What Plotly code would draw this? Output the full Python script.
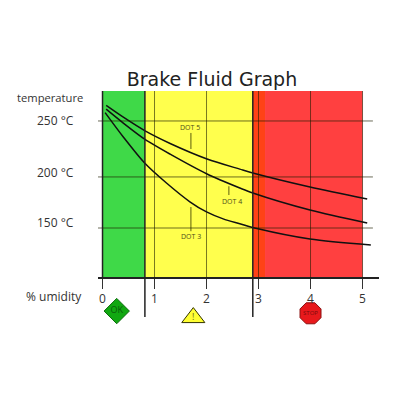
import plotly.graph_objects as go

# Values
humidity_ticks = [0, 1, 2, 3, 4, 5]
temp_tick_pos = [250, 197.7, 150]
temp_label_pos = [250, 202.3, 154.7]
temp_tick_text = ['250 °C', '200 °C', '150 °C']

dot5_x = [0.07, 0.4, 0.81, 1.3, 2.01, 2.64, 2.89, 3.99, 5.09]
dot5_y = [264.5, 253.5, 241, 229, 214.5, 205, 201.4, 188.3, 177]
dot4_x = [0.07, 0.4, 0.81, 1.3, 2.01, 2.64, 2.89, 3.99, 5.09]
dot4_y = [261, 248, 233, 219, 200.5, 187.4, 182.7, 166.8, 154.7]
dot3_x = [0.05, 0.4, 0.81, 1.23, 1.68, 2.0, 2.32, 2.64, 2.97, 3.99, 5.16]
dot3_y = [257.8, 235, 210.7, 192, 174.5, 165, 158.5, 154, 149.5, 139.7, 134.1]

# zones: start, end, colour
zone_edges = [0, 0.815, 2.89, 3.125, 5]
zone_colors = ['#3fd948', '#ffff4d', '#ff4216', '#ff4040']
separators = [0.815, 2.89]

dot_names = ['DOT 5', 'DOT 4', 'DOT 3']
dot_label_x = [1.68, 2.49, 1.7]
dot_label_y = [243.5, 175, 142.5]
dot_leader_x = [1.7, 2.43, 1.7]
dot_leader_y0 = [238.8, 180.8, 147]
dot_leader_y1 = [223.8, 189, 169.6]

icon_x = [0.273, 1.746, 4.0]
icon_y = [72.4, 66.3, 70.3]
icon_symbol = ['diamond', 'triangle-up', 'octagon']
icon_size = [19.5, 20, 22.7]
icon_color = ['#11a811', '#ffff33', '#e8191c']
icon_line = ['#0b6b0b', '#333300', '#8c1010']
icon_text = ['OK', '!', 'STOP']
icon_text_color = ['#0b5d0b', '#66661a', '#7a0c0c']

y_bottom = 103.3
y_top = 278
y_low = 54.7
separator_end = 66.8

fig = go.Figure()

for x, y in [(dot5_x, dot5_y), (dot4_x, dot4_y), (dot3_x, dot3_y)]:
    fig.add_trace(go.Scatter(x=x, y=y, mode='lines',
                             line=dict(color='#111111', width=1.5, shape='spline', smoothing=0.8)))

# warning signs under the axis
fig.add_trace(go.Scatter(x=icon_x, y=icon_y, mode='markers+text',
                         text=icon_text, textposition='middle center',
                         textfont=dict(family='Open Sans', size=[9, 9, 6], color=icon_text_color),
                         marker=dict(symbol=icon_symbol, size=icon_size, sizemode='diameter', sizeref=1,
                                     color=icon_color, opacity=1,
                                     line=dict(color=icon_line, width=1))))

shapes = []
for i, c in enumerate(zone_colors):
    shapes.append(dict(type='rect', layer='below', xref='x', yref='y', x0=zone_edges[i],
                       x1=zone_edges[i + 1], y0=y_bottom, y1=y_top, fillcolor=c, line_width=0))
for v in temp_tick_pos:
    shapes.append(dict(type='line', xref='x', yref='y', x0=-0.087, x1=5.2, y0=v, y1=v,
                       line=dict(color='rgba(30,30,0,0.65)', width=1)))
for v in humidity_ticks[1:]:
    shapes.append(dict(type='line', xref='x', yref='y', x0=v, x1=v, y0=y_bottom, y1=y_top,
                       line=dict(color='rgba(30,30,0,0.6)', width=1)))
for v in separators:
    shapes.append(dict(type='line', xref='x', yref='y', x0=v, x1=v, y0=separator_end, y1=y_top,
                       line=dict(color='#222222', width=1.5)))
shapes.append(dict(type='line', xref='x', yref='y', x0=0, x1=0, y0=y_bottom, y1=y_top,
                   line=dict(color='#222222', width=1.5)))
for i in range(3):
    shapes.append(dict(type='line', xref='x', yref='y', x0=dot_leader_x[i], x1=dot_leader_x[i],
                       y0=dot_leader_y0[i], y1=dot_leader_y1[i], line=dict(color='#333300', width=0.8)))

annotations = []
for i, name in enumerate(dot_names):
    annotations.append(dict(x=dot_label_x[i], y=dot_label_y[i], text=name, showarrow=False,
                            font=dict(family='Open Sans', size=7, color='#4d4d1a')))
for v, t in zip(temp_label_pos, temp_tick_text):
    annotations.append(dict(xref='paper', yref='y', x=-0.153, y=v, text=t, showarrow=False,
                            xanchor='center', yanchor='middle',
                            font=dict(family='Open Sans', size=12, color='#333333')))
annotations.append(dict(xref='paper', yref='paper', x=-0.171, y=0.971, text='temperature', showarrow=False,
                        xanchor='center', yanchor='middle',
                        font=dict(family='Open Sans', size=11.2, color='#333333')))
annotations.append(dict(xref='paper', yref='paper', x=-0.158, y=0.142, text='% umidity', showarrow=False,
                        xanchor='center', yanchor='middle',
                        font=dict(family='Open Sans', size=12, color='#333333')))

fig.update_layout(
    width=400, height=400, showlegend=False,
    margin=dict(l=90, r=29, t=83, b=78),
    paper_bgcolor='white', plot_bgcolor='white',
    title=dict(text='Brake Fluid Graph', x=0.51, xanchor='center', y=0.8225, yanchor='middle',
               font=dict(family='DejaVu Sans', size=19, color='#222222')),
    shapes=shapes, annotations=annotations,
    xaxis=dict(range=[-0.087, 5.317], tickvals=humidity_ticks, showgrid=False, zeroline=False,
               anchor='free', position=0.2176, showline=True, linecolor='#222222', linewidth=1.5,
               ticks='outside', ticklen=10, tickcolor='#333333', tickwidth=1,
               tickfont=dict(family='Open Sans', size=12, color='#333333')),
    yaxis=dict(range=[y_low, y_top], showgrid=False, zeroline=False, showticklabels=False, ticks=''),
)

fig.write_html("out.html")
